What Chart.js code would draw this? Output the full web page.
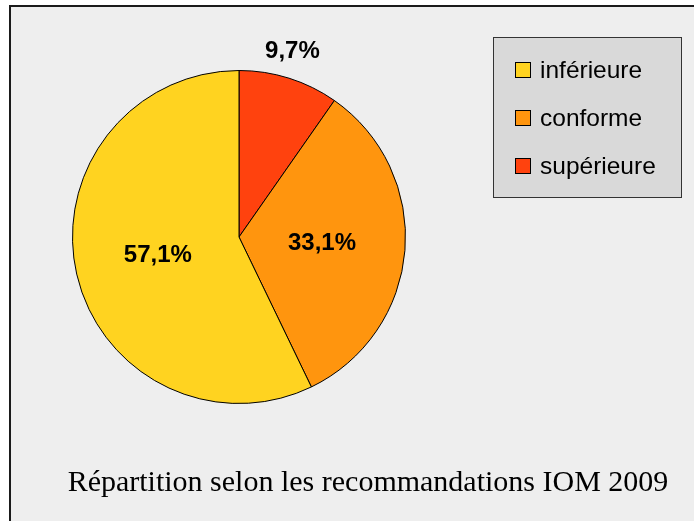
<!DOCTYPE html>
<html>
<head>
<meta charset="utf-8">
<script src="https://cdn.jsdelivr.net/npm/chart.js@4/dist/chart.umd.min.js"></script>
<style>
  html, body { margin: 0; padding: 0; background: #ffffff; }
  #wrap { width: 694px; height: 521px; }
</style>
</head>
<body>
<div id="wrap"><canvas id="c" width="694" height="521"></canvas></div>
<script>
// ---- data (legend order) ----
const categories = ['inférieure', 'conforme', 'supérieure'];
const values = [57.1, 33.1, 9.7];
const valueLabels = ['57,1%', '33,1%', '9,7%'];
const colors = ['#ffd320', '#ff950e', '#ff420e'];
const chartTitle = 'Répartition selon les recommandations IOM 2009';

// Pie is drawn clockwise from the top: supérieure, conforme, inférieure
const order = [2, 1, 0];
const pieLabels = order.map(i => categories[i]);
const pieValues = order.map(i => values[i]);
const pieColors = order.map(i => colors[i]);
const pieTexts = order.map(i => valueLabels[i]);

const framePlugin = {
  id: 'frame',
  beforeDraw(chart) {
    const ctx = chart.ctx;
    ctx.save();
    ctx.fillStyle = '#ffffff';
    ctx.fillRect(0, 0, chart.width, chart.height);
    ctx.fillStyle = '#eeeeee';
    ctx.fillRect(10, 6, chart.width - 10, chart.height - 6);
    ctx.strokeStyle = '#1a1a1a';
    ctx.lineWidth = 2;
    ctx.beginPath();
    ctx.moveTo(10, chart.height);
    ctx.lineTo(10, 6);
    ctx.lineTo(chart.width, 6);
    ctx.stroke();
    ctx.restore();
  }
};

const labelPlugin = {
  id: 'sliceLabels',
  afterDatasetsDraw(chart) {
    const ctx = chart.ctx;
    const meta = chart.getDatasetMeta(0);
    ctx.save();
    ctx.font = 'bold 24px "Liberation Sans", Arial, sans-serif';
    ctx.fillStyle = '#000000';
    ctx.textAlign = 'center';
    ctx.textBaseline = 'middle';
    meta.data.forEach((arc, i) => {
      const p = arc.getProps(['x', 'y', 'startAngle', 'endAngle', 'outerRadius'], true);
      const small = pieValues[i] < 15;
      const mid = (p.startAngle + p.endAngle) / 2 - (small ? 0.025 : 0);
      const r = p.outerRadius * (small ? 1.16 : 0.5);
      ctx.fillText(pieTexts[i], p.x + Math.cos(mid) * r, p.y + Math.sin(mid) * r);
    });
    ctx.restore();
  }
};

const legendPlugin = {
  id: 'boxLegend',
  afterDraw(chart) {
    const ctx = chart.ctx;
    ctx.save();
    ctx.fillStyle = '#d9d9d9';
    ctx.fillRect(493, 37, 189, 161);
    ctx.strokeStyle = '#333333';
    ctx.lineWidth = 1;
    ctx.strokeRect(493.5, 37.5, 188, 160);
    ctx.font = '24.5px "Liberation Sans", Arial, sans-serif';
    ctx.textAlign = 'left';
    ctx.textBaseline = 'middle';
    categories.forEach((name, i) => {
      const cy = 70 + i * 48;
      ctx.fillStyle = colors[i];
      ctx.fillRect(515, cy - 8, 16, 16);
      ctx.strokeStyle = '#000000';
      ctx.strokeRect(515.5, cy - 7.5, 15, 15);
      ctx.fillStyle = '#000000';
      ctx.fillText(name, 540, cy + 1);
    });
    // title
    ctx.font = '30px "Liberation Serif", "Times New Roman", serif';
    ctx.textAlign = 'center';
    ctx.textBaseline = 'alphabetic';
    ctx.fillText(chartTitle, 368, 491);
    ctx.restore();
  }
};

new Chart(document.getElementById('c'), {
  type: 'pie',
  data: {
    labels: pieLabels,
    datasets: [{
      data: pieValues,
      backgroundColor: pieColors,
      borderColor: '#000000',
      borderWidth: 1,
      borderAlign: 'center'
    }]
  },
  options: {
    responsive: false,
    animation: false,
    layout: { padding: { left: 72, top: 70, right: 288, bottom: 117 } },
    plugins: {
      legend: { display: false },
      tooltip: { enabled: false },
      title: { display: false }
    }
  },
  plugins: [framePlugin, labelPlugin, legendPlugin]
});
</script>
</body>
</html>
